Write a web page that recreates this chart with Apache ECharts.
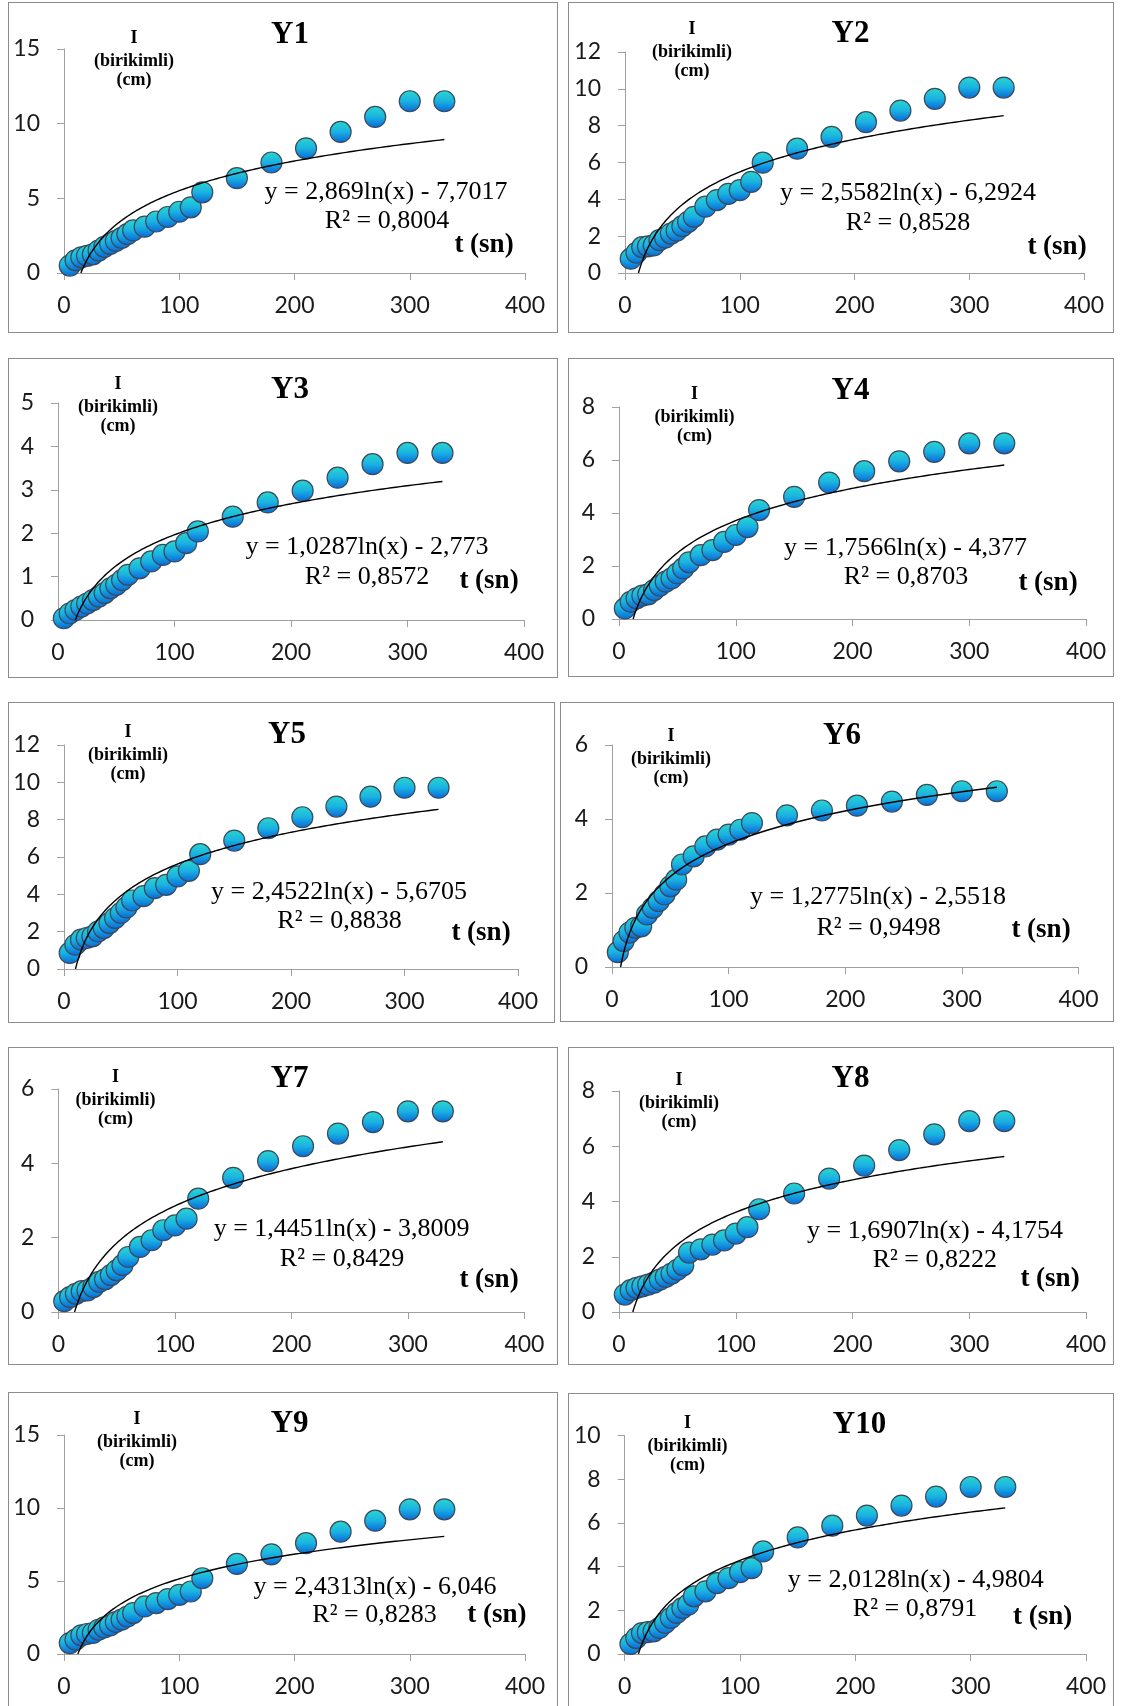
<!DOCTYPE html>
<html><head><meta charset="utf-8">
<script src="https://cdn.jsdelivr.net/npm/echarts@6/dist/echarts.min.js"></script>
<style>
html,body{margin:0;padding:0;background:#fff;width:1123px;height:1706px;overflow:hidden;position:relative}
.p{position:absolute}
.b{position:absolute;border:1.5px solid #8c8c8c;box-sizing:border-box;pointer-events:none}
</style></head><body>
<script>
// ---- data ----
const tValues = [5,10,15,20,25,30,35,40,45,50,55,60,70,80,90,100,110,120,150,180,210,240,270,300,330];
const seriesY1  = [0.5,0.85,1.05,1.15,1.25,1.5,1.75,1.95,2.15,2.35,2.6,2.85,3.1,3.45,3.75,4.1,4.4,5.4,6.35,7.4,8.35,9.45,10.45,11.5,11.5];
const seriesY2  = [0.78,1.1,1.4,1.45,1.5,1.78,1.92,2.14,2.3,2.54,2.78,3.05,3.6,3.96,4.3,4.5,4.95,5.99,6.75,7.39,8.19,8.82,9.46,10.07,10.07];
const seriesY3  = [0.04,0.15,0.23,0.31,0.38,0.46,0.54,0.62,0.73,0.81,0.92,1.04,1.19,1.35,1.5,1.58,1.77,2.04,2.38,2.71,2.98,3.28,3.59,3.85,3.85];
const seriesY4  = [0.4,0.65,0.78,0.88,0.93,1.09,1.26,1.41,1.53,1.72,1.91,2.14,2.41,2.6,2.91,3.17,3.47,4.11,4.61,5.15,5.58,5.95,6.31,6.63,6.63];
const seriesY5  = [0.86,1.3,1.57,1.66,1.75,2.01,2.19,2.46,2.73,3.0,3.3,3.67,3.9,4.33,4.51,4.96,5.26,6.15,6.88,7.54,8.13,8.7,9.23,9.71,9.71];
const seriesY6  = [0.4,0.7,0.93,1.06,1.1,1.42,1.6,1.78,1.96,2.18,2.36,2.77,2.99,3.26,3.44,3.58,3.71,3.89,4.1,4.23,4.36,4.47,4.65,4.75,4.75];
const seriesY7  = [0.29,0.4,0.49,0.56,0.58,0.67,0.81,0.88,0.99,1.12,1.26,1.48,1.75,1.93,2.2,2.33,2.51,3.05,3.61,4.06,4.46,4.8,5.11,5.4,5.4];
const seriesY8  = [0.63,0.79,0.87,0.93,0.99,1.06,1.17,1.27,1.39,1.53,1.69,2.15,2.27,2.44,2.59,2.84,3.07,3.72,4.29,4.83,5.3,5.86,6.43,6.91,6.91];
const seriesY9  = [0.75,0.98,1.28,1.37,1.44,1.66,1.82,1.96,2.19,2.35,2.57,2.8,3.26,3.49,3.76,4.05,4.28,5.19,6.17,6.83,7.59,8.38,9.13,9.91,9.91];
const seriesY10 = [0.46,0.73,0.96,1.0,1.04,1.19,1.42,1.65,1.88,2.1,2.26,2.64,2.87,3.25,3.48,3.75,3.93,4.7,5.34,5.88,6.34,6.8,7.21,7.65,7.65];
const allSeries = [seriesY1,seriesY2,seriesY3,seriesY4,seriesY5,seriesY6,seriesY7,seriesY8,seriesY9,seriesY10];

const panelNames = ['Y1','Y2','Y3','Y4','Y5','Y6','Y7','Y8','Y9','Y10'];
const yMax      = [15,12,5,8,12,6,6,8,15,10];
const yInterval = [5,2,1,2,2,2,2,2,5,2];
const xMin = 0, xMax = 400, xInterval = 100;

// logarithmic trendline coefficients as printed on the chart: y = a ln(x) + b
const trendA = [2.869,2.5582,1.0287,1.7566,2.4522,1.2775,1.4451,1.6907,2.4313,2.0128];
const trendB = [-7.7017,-6.2924,-2.773,-4.377,-5.6705,-2.5518,-3.8009,-4.1754,-6.046,-4.9804];
const eqLabels = ['y = 2,869ln(x) - 7,7017','y = 2,5582ln(x) - 6,2924','y = 1,0287ln(x) - 2,773','y = 1,7566ln(x) - 4,377',
  'y = 2,4522ln(x) - 5,6705','y = 1,2775ln(x) - 2,5518','y = 1,4451ln(x) - 3,8009','y = 1,6907ln(x) - 4,1754',
  'y = 2,4313ln(x) - 6,046','y = 2,0128ln(x) - 4,9804'];
const r2Labels = ['R² = 0,8004','R² = 0,8528','R² = 0,8572','R² = 0,8703','R² = 0,8838',
  'R² = 0,9498','R² = 0,8429','R² = 0,8222','R² = 0,8283','R² = 0,8791'];
const yAxisTitleLines = ['I','(birikimli)','(cm)'];
const xAxisTitle = 't (sn)';

// ---- layout (pixels) ----
const layout = [
 {box:[8,2,550,331],    grid:[56,33,47,60],     title:[282,33],    at:[126,59],   eq:[378,190],   r2:[379,219],   ts:[476,243]},
 {box:[568,2,546,331],  grid:[57,30,50,60],     title:[282.5,32],  at:[124,50],   eq:[340,191],   r2:[340,221],   ts:[489,245]},
 {box:[8,358,550,320],  grid:[50,34,45,58],     title:[282,32],    at:[110,49],   eq:[359,189],   r2:[359,219],   ts:[481,223]},
 {box:[568,358,546,319],grid:[51,28,49,58],     title:[282.5,33],  at:[126.6,59], eq:[337.5,190], r2:[338,219],   ts:[480,225]},
 {box:[8,702,547,321],  grid:[56,37,43,54],     title:[279,33],    at:[120,53],   eq:[331,190],   r2:[331.5,219], ts:[473,231]},
 {box:[560,702,554,320],grid:[52,35.5,43,55],   title:[282,34],    at:[111,57],   eq:[318,195],   r2:[318.6,226], ts:[481,228]},
 {box:[8,1047,550,318], grid:[50.4,33.6,42,53], title:[281.6,31.7],at:[107.4,53], eq:[333.6,181.7],r2:[334,211.7], ts:[481,233]},
 {box:[568,1047,546,318],grid:[51,28,44,53],    title:[282.5,32],  at:[111,56],   eq:[367,184],   r2:[366.8,213], ts:[482,232]},
 {box:[8,1392,550,316], grid:[56,33,43,54],     title:[281.6,32],  at:[129,50],   eq:[367,194.7], r2:[366.5,223], ts:[488.8,223]},
 {box:[568,1393,546,315],grid:[56.7,28,42.7,54],title:[291.5,32],  at:[119.4,53.7],eq:[347.8,187],r2:[347,216],   ts:[474.6,223.7]}
];

const serif = '"Liberation Serif","Times New Roman",serif';
const markerFill = {type:'linear',x:0,y:0,x2:0,y2:1,colorStops:[
  {offset:0,color:'#2ad8cc'},{offset:0.5,color:'#1ab2e2'},{offset:1,color:'#0866d6'}]};

function txt(x,y,text,font){
  return {type:'text',x:x,y:y,silent:true,z:100,
    style:{text:text,font:font,fill:'#000',align:'center',verticalAlign:'middle',textAlign:'center',textVerticalAlign:'middle'}};
}

layout.forEach((L,i)=>{
  const d=document.createElement('div');
  d.className='p';
  d.style.left=L.box[0]+'px';d.style.top=L.box[1]+'px';
  d.style.width=L.box[2]+'px';d.style.height=L.box[3]+'px';
  document.body.appendChild(d);
  const bd=document.createElement('div');
  bd.className='b';
  bd.style.left=L.box[0]+'px';bd.style.top=L.box[1]+'px';
  bd.style.width=L.box[2]+'px';bd.style.height=L.box[3]+'px';
  document.body.appendChild(bd);

  const chart=echarts.init(d,null,{renderer:'canvas'});
  const a=trendA[i], b=trendB[i];
  const x0=Math.max(tValues[0],Math.exp(-b/a));
  const x1=tValues[tValues.length-1];
  const trend=[];
  const N=240;
  for(let k=0;k<=N;k++){
    const x=x0*Math.pow(x1/x0,k/N);
    trend.push([x,a*Math.log(x)+b]);
  }
  const pts=tValues.map((t,j)=>[t,allSeries[i][j]]);
  const mid=L.at;
  chart.setOption({
    animation:false,
    backgroundColor:'transparent',
    grid:{left:L.grid[0],right:L.grid[1],top:L.grid[2],bottom:L.grid[3],containLabel:false,outerBoundsMode:'none'},
    xAxis:{type:'value',min:xMin,max:xMax,interval:xInterval,
      axisLine:{show:true,lineStyle:{color:'#a0a0a0',width:1}},
      axisTick:{show:true,length:7,lineStyle:{color:'#a0a0a0'}},
      splitLine:{show:false},
      axisLabel:{margin:21,fontFamily:'Lato',fontSize:23,color:'#1a1a1a'}},
    yAxis:{type:'value',min:0,max:yMax[i],interval:yInterval[i],
      axisLine:{show:true,lineStyle:{color:'#a0a0a0',width:1}},
      axisTick:{show:true,length:7,lineStyle:{color:'#a0a0a0'}},
      splitLine:{show:false},
      axisLabel:{margin:24,fontFamily:'Lato',fontSize:23,color:'#1a1a1a'}},
    series:[
      {type:'scatter',data:pts,symbol:'circle',symbolSize:21,z:2,silent:true,
       itemStyle:{color:markerFill,borderColor:'#3a4a5e',borderWidth:1.2,opacity:1}},
      {type:'line',data:trend,showSymbol:false,symbol:'none',smooth:false,z:5,silent:true,
       lineStyle:{color:'#000',width:1.4}}
    ],
    graphic:[
      txt(L.title[0],L.title[1],panelNames[i],'bold 31px '+serif),
      txt(mid[0],mid[1]-23,yAxisTitleLines[0],'bold 18px '+serif),
      txt(mid[0],mid[1],yAxisTitleLines[1],'bold 18px '+serif),
      txt(mid[0],mid[1]+19,yAxisTitleLines[2],'bold 18px '+serif),
      txt(L.eq[0],L.eq[1],eqLabels[i],'26px '+serif),
      txt(L.r2[0],L.r2[1],r2Labels[i],'26px '+serif),
      txt(L.ts[0],L.ts[1],xAxisTitle,'bold 27px '+serif)
    ]
  });
});
</script>
</body></html>
